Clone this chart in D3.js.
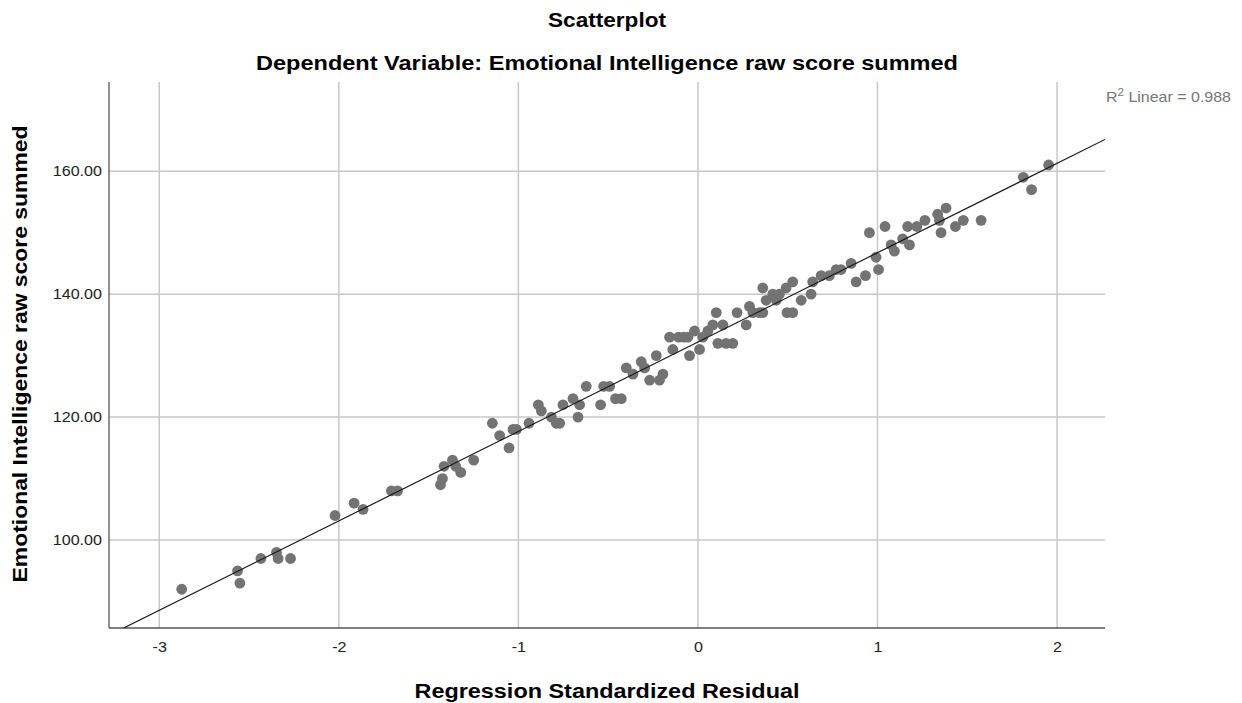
<!DOCTYPE html>
<html lang="en">
<head>
<meta charset="UTF-8">
<title>Scatterplot</title>
<style>
    body { margin: 0; background: #fff; }
    svg { display: block; font-family: Arial, "Liberation Sans", sans-serif; }
    .titulo { font-weight: bold; font-size: 19.5px; text-anchor: middle; fill: #000; }
    .rotulo-eixo { font-weight: bold; font-size: 19.5px; text-anchor: middle; fill: #000; }
    .grade line { stroke: #c8c8c8; stroke-width: 1.5; }
    .eixo text { font-size: 14px; fill: #222; }
    .eixo path, .eixo line { stroke: none; }
    .ponto { fill: #737373; }
    .ajuste { stroke: #1a1a1a; stroke-width: 1.2; fill: none; }
    .r2 { font-size: 14.5px; fill: #777; }
</style>
<script src="https://cdn.jsdelivr.net/npm/d3@7"></script>
</head>
<body>
<svg id="grafico" width="1242" height="703"></svg>
<script>
// residuos padronizados (eixo x) e escore bruto (eixo y)
const residuos = [
    -2.875, -2.564, -2.551, -2.434, -2.347, -2.338, -2.269, -2.021, -1.915, -1.865,
    -1.707, -1.673, -1.434, -1.423, -1.414, -1.367, -1.349, -1.321, -1.249, -1.145,
    -1.104, -1.052, -1.030, -1.011, -0.941, -0.889, -0.872, -0.816, -0.789, -0.770,
    -0.752, -0.696, -0.668, -0.659, -0.622, -0.542, -0.525, -0.492, -0.459, -0.427,
    -0.399, -0.362, -0.316, -0.297, -0.269, -0.232, -0.214, -0.195, -0.158, -0.140,
    -0.108, -0.080, -0.056, -0.047, -0.019, 0.009, 0.027, 0.055, 0.083, 0.102,
    0.111, 0.139, 0.157, 0.194, 0.218, 0.269, 0.287, 0.306, 0.343, 0.361,
    0.361, 0.380, 0.417, 0.436, 0.454, 0.491, 0.528, 0.496, 0.528, 0.575,
    0.630, 0.639, 0.686, 0.732, 0.770, 0.797, 0.853, 0.881, 0.933, 0.955,
    0.992, 1.006, 1.042, 1.076, 1.094, 1.140, 1.168, 1.178, 1.219, 1.264,
    1.335, 1.345, 1.354, 1.382, 1.434, 1.478, 1.577, 1.812, 1.858, 1.953
];
const escores = [
    92, 95, 93, 97, 98, 97, 97, 104, 106, 105,
    108, 108, 109, 110, 112, 113, 112, 111, 113, 119,
    117, 115, 118, 118, 119, 122, 121, 120, 119, 119,
    122, 123, 120, 122, 125, 122, 125, 125, 123, 123,
    128, 127, 129, 128, 126, 130, 126, 127, 133, 131,
    133, 133, 133, 130, 134, 131, 133, 134, 135, 137,
    132, 135, 132, 132, 137, 135, 138, 137, 137, 141,
    137, 139, 140, 139, 140, 141, 142, 137, 137, 139,
    140, 142, 143, 143, 144, 144, 145, 142, 143, 150,
    146, 144, 151, 148, 147, 149, 151, 148, 151, 152,
    153, 152, 150, 154, 151, 152, 152, 159, 157, 161
];
const ticksX = [-3, -2, -1, 0, 1, 2];
const ticksY = [100, 120, 140, 160];
// reta de ajuste linear (R2 = 0.988)
const interceptoAjuste = 132.2;
const inclinacaoAjuste = 14.54;

let svg = d3.select('#grafico');
let esq = 109, dir = 1105, topo = 82, base = 628;

let fnX = d3.scaleLinear().domain([-3.28, 2.267]).range([esq, dir]);
let fnY = d3.scaleLinear().domain([85.7, 174.5]).range([base, topo]);

// a fonte do original e mais larga que a Arial: estica o texto na horizontal
function alargar(sel, fator) {
    sel.each(function () {
        let w = this.getComputedTextLength();
        d3.select(this).attr('textLength', w * fator).attr('lengthAdjust', 'spacingAndGlyphs');
    });
}

svg.append('text').classed('titulo', true)
    .attr('x', (esq + dir) / 2).attr('y', 27).text('Scatterplot')
    .attr('textLength', 118).attr('lengthAdjust', 'spacingAndGlyphs');
svg.append('text').classed('titulo', true)
    .attr('x', (esq + dir) / 2).attr('y', 70)
    .text('Dependent Variable: Emotional Intelligence raw score summed')
    .attr('textLength', 702).attr('lengthAdjust', 'spacingAndGlyphs');

// grade
let grade = svg.append('g').classed('grade', true);
grade.selectAll('.gx').data(ticksX).enter().append('line')
    .attr('x1', d => fnX(d)).attr('x2', d => fnX(d))
    .attr('y1', topo).attr('y2', base);
grade.selectAll('.gy').data(ticksY).enter().append('line')
    .attr('x1', esq).attr('x2', dir)
    .attr('y1', d => fnY(d)).attr('y2', d => fnY(d));

// eixos
let eixoX = svg.append('g').classed('eixo', true)
    .attr('transform', `translate(0,${base})`)
    .call(d3.axisBottom(fnX).tickValues(ticksX).tickSize(0).tickPadding(14)
        .tickFormat(d => String(d)));
let eixoY = svg.append('g').classed('eixo', true)
    .attr('transform', `translate(${esq},0)`)
    .call(d3.axisLeft(fnY).tickValues(ticksY).tickSize(0).tickPadding(7)
        .tickFormat(d3.format('.2f')));
alargar(eixoX.selectAll('text'), 1.15);
alargar(eixoY.selectAll('text'), 1.15);

svg.append('line').attr('x1', esq).attr('x2', esq).attr('y1', topo).attr('y2', base)
    .attr('stroke', '#555').attr('stroke-width', 1.3);
svg.append('line').attr('x1', esq).attr('x2', dir).attr('y1', base).attr('y2', base)
    .attr('stroke', '#555').attr('stroke-width', 1.3);

// pontos
let dados = residuos.map((r, i) => ({ r: r, e: escores[i] }));
svg.selectAll('.ponto').data(dados).enter().append('circle')
    .classed('ponto', true)
    .attr('cx', d => fnX(d.r)).attr('cy', d => fnY(d.e)).attr('r', 5.4);

// reta de ajuste, recortada na area do grafico
svg.append('clipPath').attr('id', 'area')
    .append('rect').attr('x', esq).attr('y', topo)
    .attr('width', dir - esq).attr('height', base - topo);
let dom = fnX.domain();
svg.append('line').classed('ajuste', true)
    .attr('clip-path', 'url(#area)')
    .attr('x1', fnX(dom[0])).attr('y1', fnY(interceptoAjuste + inclinacaoAjuste * dom[0]))
    .attr('x2', fnX(dom[1])).attr('y2', fnY(interceptoAjuste + inclinacaoAjuste * dom[1]));

// R2
let r2 = svg.append('text').classed('r2', true).attr('x', 1106).attr('y', 102);
r2.append('tspan').text('R');
r2.append('tspan').attr('dy', -6).attr('font-size', 10.5).text('2');
r2.append('tspan').attr('dy', 6).text(' Linear = 0.988');
r2.attr('textLength', 125).attr('lengthAdjust', 'spacingAndGlyphs');

// rotulos dos eixos
svg.append('text').classed('rotulo-eixo', true)
    .attr('x', 607).attr('y', 698).text('Regression Standardized Residual')
    .attr('textLength', 385).attr('lengthAdjust', 'spacingAndGlyphs');
svg.append('text').classed('rotulo-eixo', true)
    .attr('transform', 'translate(27,354) rotate(-90)')
    .text('Emotional Intelligence raw score summed')
    .attr('textLength', 457).attr('lengthAdjust', 'spacingAndGlyphs');
</script>
</body>
</html>
